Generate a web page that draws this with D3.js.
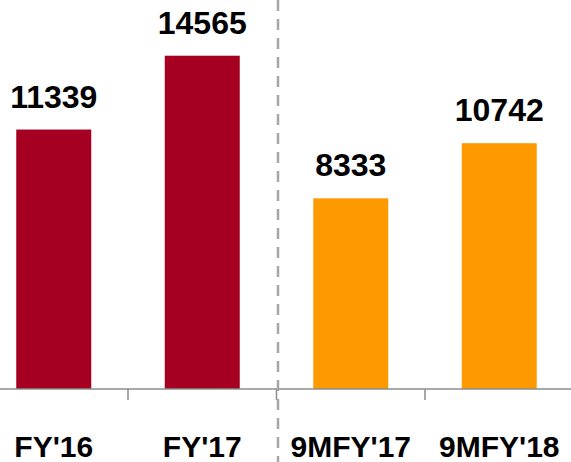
<!DOCTYPE html>
<html>
<head>
<meta charset="utf-8">
<script src="https://cdn.jsdelivr.net/npm/d3@7"></script>
<style>
html,body{margin:0;padding:0;background:#fff;}
svg{display:block;}
text{font-family:"Liberation Sans",Arial,sans-serif;font-weight:bold;fill:#000;}
</style>
</head>
<body>
<svg width="571" height="462"></svg>
<script>
// chart data
var categories=["FY'16","FY'17","9MFY'17","9MFY'18"];
var values=[11339,14565,8333,10742];
var colors=["#a50021","#a50021","#ff9900","#ff9900"];

var W=571,H=462,base=389;
var svg=d3.select('svg');

var x=d3.scaleBand().domain(categories).range([-20.5,573.5]).paddingInner(0.495).paddingOuter(0.2475);
var y=d3.scaleLinear().domain([0,17000]).range([base,0]);

// bars
svg.selectAll('rect.bar').data(values).enter().append('rect')
	.attr('class','bar')
	.attr('x',function(d,i){return x(categories[i]);})
	.attr('y',function(d){return y(d);})
	.attr('width',x.bandwidth())
	.attr('height',function(d){return base-y(d);})
	.attr('fill',function(d,i){return colors[i];});

// value labels
svg.selectAll('text.val').data(values).enter().append('text')
	.attr('class','val')
	.attr('x',function(d,i){return x(categories[i])+x.bandwidth()/2;})
	.attr('y',function(d){return y(d)-22;})
	.attr('text-anchor','middle')
	.style('font-size','32px')
	.text(function(d){return d;});

// axis line + ticks between categories
svg.append('line').attr('x1',0).attr('x2',W).attr('y1',base).attr('y2',base)
	.attr('stroke','#8c8c8c').attr('stroke-width',1.5);
var step=x.step();
svg.selectAll('line.tick').data(categories.slice(1)).enter().append('line')
	.attr('class','tick')
	.attr('x1',function(d){return x(d)-x.paddingInner()*step/2;})
	.attr('x2',function(d){return x(d)-x.paddingInner()*step/2;})
	.attr('y1',base).attr('y2',base+11)
	.attr('stroke','#8c8c8c').attr('stroke-width',1.5);

// category labels
svg.selectAll('text.cat').data(categories).enter().append('text')
	.attr('class','cat')
	.attr('x',function(d){return x(d)+x.bandwidth()/2;})
	.attr('y',457)
	.attr('text-anchor','middle')
	.style('font-size','30px')
	.text(function(d){return d;});

// dashed divider
var dx=x(categories[2])-x.paddingInner()*step/2+1.5;
svg.append('line').attr('x1',dx).attr('x2',dx).attr('y1',0).attr('y2',H)
	.attr('stroke','#a6a6a6').attr('stroke-width',2.5).attr('stroke-dasharray','11,8');
</script>
</body>
</html>
